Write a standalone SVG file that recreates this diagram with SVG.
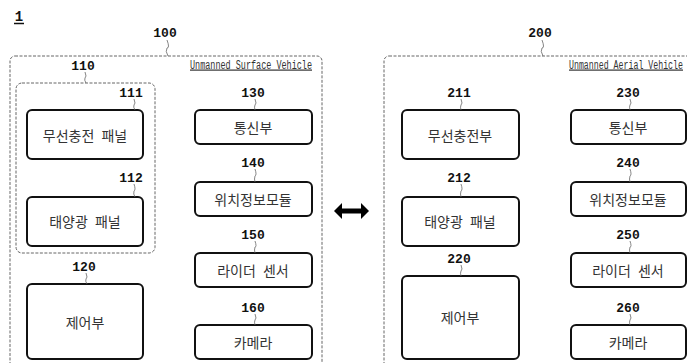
<svg xmlns="http://www.w3.org/2000/svg" width="687" height="363" viewBox="0 0 687 363">
<style>
.bg{fill:#fff}
.dash{fill:none;stroke:#666;stroke-width:1;stroke-dasharray:3 1.5}
.box{fill:#fff;stroke:#111;stroke-width:2}
.num{font-family:"Liberation Mono","DejaVu Sans Mono",monospace;font-weight:bold;font-size:13px;fill:#111;text-anchor:middle;dominant-baseline:central}
.kr{font-family:"Noto Sans CJK KR","Noto Sans",sans-serif;font-size:14px;fill:#333;text-anchor:middle;dominant-baseline:central;word-spacing:4px}
.veh{font-family:"Liberation Mono","DejaVu Sans Mono",monospace;font-size:12px;fill:#333;text-decoration:underline}
.lead{fill:none;stroke:#666;stroke-width:0.8}
</style>
<rect class="bg" x="0" y="0" width="687" height="363"/>
<g id="fig-label">
<text x="19" y="17" class="num" style="font-size:14px">1</text>
<line x1="14" y1="23.5" x2="24" y2="23.5" stroke="#111" stroke-width="1.5"/>
</g>
<g id="usv-100">
<rect class="dash" x="10" y="56" width="312" height="330" rx="5"/>
<text class="num" x="165" y="33">100</text>
<text class="veh" x="190" y="68.5" textLength="122" lengthAdjust="spacingAndGlyphs">Unmanned Surface Vehicle</text>
</g>
<g id="panel-110">
<rect class="dash" x="16" y="83" width="139" height="170" rx="6"/>
<text class="num" x="83" y="66">110</text>
</g>
<g id="node-111"><text class="num" x="131" y="93">111</text><rect class="box" x="27" y="110" width="116" height="49" rx="5"/><text class="kr" x="85" y="135">무선충전 패널</text></g>
<g id="node-112"><text class="num" x="131" y="178">112</text><rect class="box" x="27" y="197" width="116" height="49" rx="5"/><text class="kr" x="85" y="221">태양광 패널</text></g>
<g id="node-120"><text class="num" x="84" y="267">120</text><rect class="box" x="27" y="284" width="116" height="75" rx="5"/><text class="kr" x="85" y="322">제어부</text></g>
<g id="node-130"><text class="num" x="253" y="93">130</text><rect class="box" x="195" y="110" width="117" height="34" rx="5"/><text class="kr" x="253" y="127">통신부</text></g>
<g id="node-140"><text class="num" x="253" y="163">140</text><rect class="box" x="195" y="182" width="117" height="34" rx="5"/><text class="kr" x="253" y="199">위치정보모듈</text></g>
<g id="node-150"><text class="num" x="253" y="235">150</text><rect class="box" x="195" y="253" width="117" height="34" rx="5"/><text class="kr" x="253" y="270">라이더 센서</text></g>
<g id="node-160"><text class="num" x="253" y="308">160</text><rect class="box" x="195" y="325" width="117" height="34" rx="5"/><text class="kr" x="253" y="342">카메라</text></g>
<g id="uav-200">
<rect class="dash" x="384" y="56" width="330" height="330" rx="5"/>
<text class="num" x="540" y="33">200</text>
<text class="veh" x="569" y="68.5" textLength="114" lengthAdjust="spacingAndGlyphs">Unmanned Aerial Vehicle</text>
</g>
<g id="node-211"><text class="num" x="459" y="93">211</text><rect class="box" x="402" y="110" width="117" height="49" rx="5"/><text class="kr" x="460" y="135">무선충전부</text></g>
<g id="node-212"><text class="num" x="459" y="178">212</text><rect class="box" x="402" y="197" width="117" height="49" rx="5"/><text class="kr" x="460" y="221">태양광 패널</text></g>
<g id="node-220"><text class="num" x="459" y="259">220</text><rect class="box" x="402" y="276" width="117" height="83" rx="5"/><text class="kr" x="460" y="317">제어부</text></g>
<g id="node-230"><text class="num" x="628" y="93">230</text><rect class="box" x="571" y="110" width="115" height="34" rx="5"/><text class="kr" x="628" y="127">통신부</text></g>
<g id="node-240"><text class="num" x="628" y="163">240</text><rect class="box" x="571" y="182" width="115" height="34" rx="5"/><text class="kr" x="628" y="199">위치정보모듈</text></g>
<g id="node-250"><text class="num" x="628" y="235">250</text><rect class="box" x="571" y="253" width="115" height="34" rx="5"/><text class="kr" x="628" y="270">라이더 센서</text></g>
<g id="node-260"><text class="num" x="628" y="308">260</text><rect class="box" x="571" y="325" width="115" height="34" rx="5"/><text class="kr" x="628" y="342">카메라</text></g>
<g id="connectors">
<path class="lead" d="M167 40 q3 8 0 8 q-2 3 1 8"/>
<path class="lead" d="M85 72 q2 5 0 6 q-1 2 1 5"/>
<path class="lead" d="M134 99 q2 5 0 6 q-1 2 1 5"/>
<path class="lead" d="M134 184 q2 6 0 7 q-1 3 1 6"/>
<path class="lead" d="M86 273 q2 5 0 6 q-1 2 1 5"/>
<path class="lead" d="M255 99 q2 5 0 6 q-1 2 0 5"/>
<path class="lead" d="M255 169 q2 6 0 7 q-1 3 0 6"/>
<path class="lead" d="M255 241 q2 6 0 6 q-1 3 0 6"/>
<path class="lead" d="M255 314 q2 5 0 6 q-1 2 0 5"/>
<path class="lead" d="M542 40 q3 8 0 8 q-2 3 1 8"/>
<path class="lead" d="M461 99 q2 5 0 6 q-1 2 0 5"/>
<path class="lead" d="M461 184 q2 6 0 7 q-1 3 0 6"/>
<path class="lead" d="M461 265 q2 5 0 6 q-1 2 0 5"/>
<path class="lead" d="M630 99 q2 5 0 6 q-1 2 0 5"/>
<path class="lead" d="M630 169 q2 6 0 7 q-1 3 0 6"/>
<path class="lead" d="M630 241 q2 6 0 6 q-1 3 0 6"/>
<path class="lead" d="M630 314 q2 5 0 6 q-1 2 0 5"/>
<polygon id="link-usv-uav" fill="#000" points="334,211 342,203 342,208.5 361,208.5 361,203 369,211 361,219 361,213.5 342,213.5 342,219"/>
</g>
</svg>
